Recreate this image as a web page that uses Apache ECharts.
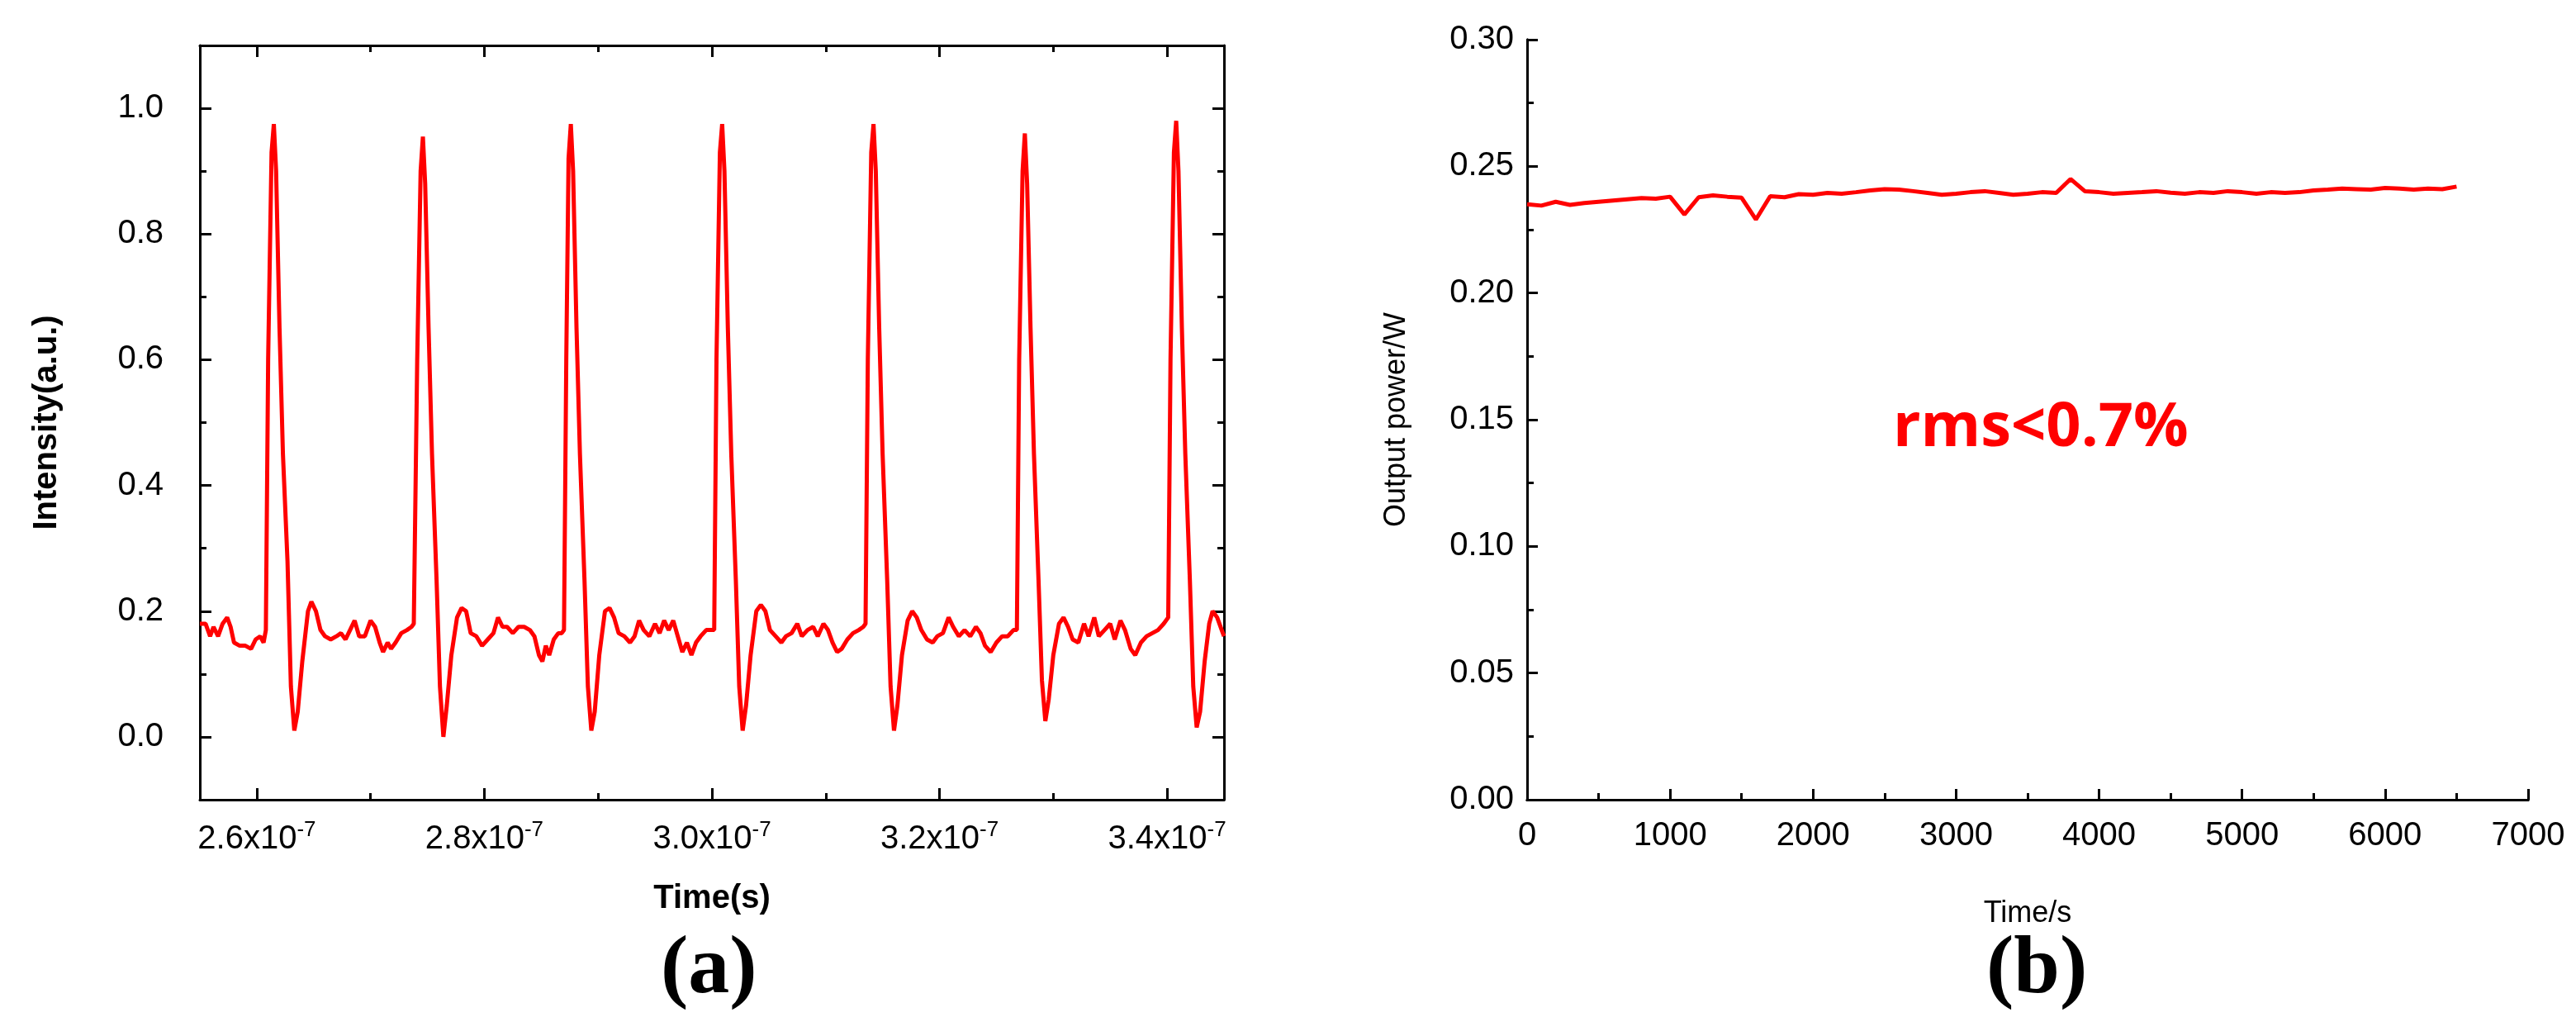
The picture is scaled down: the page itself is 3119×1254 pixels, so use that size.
<!doctype html>
<html lang="en">
<head>
<meta charset="utf-8">
<title>Pulse train and power stability</title>
<script src="https://cdn.jsdelivr.net/npm/echarts@6.0.0/dist/echarts.min.js"></script>
<style>
  html, body { margin: 0; padding: 0; background: #fff; }
  #chart { width: 3119px; height: 1254px; }
</style>
</head>
<body>
<div id="chart"></div>
<script>
// (a) pulse train, time in ns
var waveA = [
  [255.0,0.18],[255.5,0.18],[255.9,0.16],[256.2,0.175],[256.6,0.16],[257.0,0.18],[257.4,0.19],[257.7,0.175],[258.0,0.15],[258.5,0.145],[259.0,0.145],[259.5,0.14],[259.9,0.155],[260.3,0.16],[260.6,0.15],
  [260.8,0.17],[261.0,0.6],[261.3,0.93],[261.5,0.975],[261.7,0.9],[262.0,0.65],[262.3,0.45],[262.7,0.28],[263.0,0.08],[263.3,0.01],[263.6,0.04],[264.0,0.12],[264.5,0.2],[264.8,0.215],[265.2,0.2],[265.6,0.17],[266.0,0.16],[266.5,0.155],[267.0,0.16],[267.4,0.165],[267.8,0.155],[268.2,0.17],[268.6,0.185],[269.0,0.16],[269.5,0.16],[270.0,0.185],[270.4,0.175],[270.8,0.15],[271.1,0.135],[271.5,0.15],[271.8,0.14],[272.2,0.15],[272.7,0.165],[273.2,0.17],[273.6,0.175],
  [273.8,0.18],[274.1,0.6],[274.4,0.9],[274.6,0.955],[274.8,0.88],[275.1,0.65],[275.4,0.45],[275.8,0.25],[276.1,0.08],[276.4,0.0],[276.7,0.05],[277.1,0.13],[277.6,0.19],[278.0,0.205],[278.4,0.2],[278.8,0.165],[279.3,0.16],[279.8,0.145],[280.3,0.155],[280.8,0.165],[281.2,0.19],[281.6,0.175],[282.0,0.175],[282.5,0.165],[283.0,0.175],[283.5,0.175],[284.0,0.17],[284.4,0.16],[284.8,0.13],[285.1,0.12],[285.4,0.145],[285.7,0.13],[286.1,0.155],[286.5,0.165],[286.8,0.165],
  [287.0,0.17],[287.2,0.6],[287.4,0.92],[287.6,0.975],[287.8,0.9],[288.1,0.65],[288.4,0.45],[288.8,0.25],[289.1,0.08],[289.4,0.01],[289.7,0.04],[290.1,0.13],[290.6,0.2],[291.0,0.205],[291.4,0.19],[291.8,0.165],[292.3,0.16],[292.8,0.15],[293.2,0.16],[293.6,0.185],[294.0,0.17],[294.5,0.16],[295.0,0.18],[295.4,0.165],[295.8,0.185],[296.2,0.17],[296.6,0.185],[297.0,0.16],[297.4,0.135],[297.8,0.15],[298.2,0.13],[298.6,0.15],[299.0,0.16],[299.5,0.17],[300.0,0.17],
  [300.2,0.17],[300.4,0.6],[300.7,0.93],[300.9,0.975],[301.1,0.9],[301.4,0.65],[301.7,0.45],[302.1,0.25],[302.4,0.08],[302.7,0.01],[303.0,0.05],[303.4,0.13],[303.9,0.2],[304.3,0.21],[304.7,0.2],[305.1,0.17],[305.6,0.16],[306.1,0.15],[306.5,0.16],[307.0,0.165],[307.5,0.18],[307.9,0.16],[308.4,0.17],[308.9,0.175],[309.3,0.16],[309.8,0.18],[310.2,0.17],[310.6,0.15],[311.0,0.135],[311.4,0.14],[311.9,0.155],[312.4,0.165],[312.9,0.17],[313.3,0.175],
  [313.5,0.18],[313.7,0.6],[314.0,0.93],[314.2,0.975],[314.4,0.9],[314.7,0.65],[315.0,0.45],[315.4,0.25],[315.7,0.08],[316.0,0.01],[316.3,0.05],[316.7,0.13],[317.2,0.185],[317.6,0.2],[318.0,0.19],[318.4,0.17],[318.9,0.155],[319.4,0.15],[319.8,0.16],[320.3,0.165],[320.8,0.19],[321.2,0.175],[321.7,0.16],[322.2,0.17],[322.7,0.16],[323.2,0.175],[323.6,0.165],[324.0,0.145],[324.5,0.135],[325.0,0.15],[325.5,0.16],[326.0,0.16],[326.5,0.17],
  [326.8,0.17],[327.0,0.6],[327.3,0.9],[327.5,0.96],[327.7,0.88],[328.0,0.65],[328.3,0.45],[328.7,0.25],[329.0,0.09],[329.3,0.025],[329.6,0.06],[330.0,0.13],[330.5,0.18],[330.9,0.19],[331.3,0.175],[331.7,0.155],[332.2,0.15],[332.7,0.18],[333.1,0.16],[333.6,0.19],[334.0,0.16],[334.5,0.17],[335.0,0.18],[335.4,0.155],[335.9,0.185],[336.3,0.17],[336.8,0.14],[337.2,0.13],[337.7,0.15],[338.2,0.16],[338.7,0.165],[339.2,0.17],[339.7,0.18],
  [340.1,0.19],[340.3,0.6],[340.6,0.93],[340.8,0.98],[341.0,0.9],[341.3,0.65],[341.6,0.45],[342.0,0.25],[342.3,0.08],[342.6,0.015],[342.9,0.04],[343.3,0.12],[343.7,0.18],[344.0,0.2],[344.4,0.19],[344.8,0.17],[345.0,0.16]
];
var ticksA = [260, 280, 300, 320, 340];
var minorA = [270, 290, 310, 330];
var yTicksA = [0, 0.2, 0.4, 0.6, 0.8, 1.0];
var yMinorA = [-0.1, 0.1, 0.3, 0.5, 0.7, 0.9, 1.1];

// (b) output power vs time, every 100 s
var timeB = [];
for (var t = 0; t <= 6500; t += 100) timeB.push(t);
var powerB = [
  0.235,0.2345,0.236,0.2348,0.2355,0.236,0.2365,0.237,0.2375,0.2372,0.238,0.231,0.2378,0.2385,0.238,0.2376,0.229,0.2382,0.2378,0.239,0.2388,0.2395,0.2392,0.2398,0.2405,0.241,0.2408,0.2402,0.2395,0.2388,0.2392,0.2398,0.2402,0.2395,0.2388,0.2392,0.2398,0.2395,0.245,0.2402,0.2398,0.2392,0.2395,0.2398,0.2402,0.2396,0.2392,0.2398,0.2395,0.2402,0.2398,0.2392,0.2398,0.2395,0.2398,0.2405,0.2408,0.2412,0.241,0.2408,0.2415,0.2412,0.2408,0.2412,0.241,0.242
];
var dataB = timeB.map(function (x, i) { return [x, powerB[i]]; });

var black = '#000';
var lab = { color: black, fontFamily: 'Liberation Sans', fontSize: 40 };

var chart = echarts.init(document.getElementById('chart'));
var gA = { left: 242, right: 1637, top: 55, bottom: 286 };
var gB = { left: 1849, right: 58, top: 48, bottom: 286 };

function tickAxis(grid, pos, vals, len, show) {
  return {
    type: 'value', gridIndex: grid, position: pos, min: 255, max: 345,
    axisLine: { show: show, onZero: false, lineStyle: { color: black, width: 3 } },
    axisTick: { show: true, inside: true, length: len, customValues: vals, lineStyle: { color: black, width: 3 } },
    axisLabel: { show: false }, splitLine: { show: false }
  };
}
function yTickAxis(grid, pos, vals, len, show) {
  return {
    type: 'value', gridIndex: grid, position: pos, min: -0.1, max: 1.1,
    axisLine: { show: show, onZero: false, lineStyle: { color: black, width: 3 } },
    axisTick: { show: true, inside: true, length: len, customValues: vals, lineStyle: { color: black, width: 3 } },
    axisLabel: { show: false }, splitLine: { show: false }
  };
}

chart.setOption({
  animation: false,
  backgroundColor: '#fff',
  grid: [gA, gB],
  xAxis: [
    {
      type: 'value', gridIndex: 0, position: 'bottom', min: 255, max: 345,
      name: 'Time(s)', nameLocation: 'middle', nameGap: 100,
      nameTextStyle: { color: black, fontFamily: 'Liberation Sans', fontWeight: 'bold', fontSize: 40 },
      axisLine: { onZero: false, lineStyle: { color: black, width: 3 } },
      axisTick: { inside: true, length: 14, customValues: ticksA, lineStyle: { color: black, width: 3 } },
      axisLabel: {
        customValues: ticksA, margin: 24,
        formatter: function (v) { return (v / 100).toFixed(1) + 'x10{sup|-7}'; },
        rich: { sup: { fontFamily: 'Liberation Sans', fontSize: 26, color: black, verticalAlign: 'top', padding: [0, 0, 22, 0] } },
        color: black, fontFamily: 'Liberation Sans', fontSize: 40
      },
      splitLine: { show: false }
    },
    tickAxis(0, 'bottom', minorA, 8, false),
    tickAxis(0, 'top', ticksA, 14, true),
    tickAxis(0, 'top', minorA, 8, false),
    {
      type: 'value', gridIndex: 1, min: 0, max: 7000, interval: 1000,
      name: 'Time/s', nameLocation: 'middle', nameGap: 120,
      nameTextStyle: { color: black, fontFamily: 'Liberation Sans', fontSize: 36 },
      axisLine: { lineStyle: { color: black, width: 3 } },
      axisTick: { inside: true, length: 13, lineStyle: { color: black, width: 3 } },
      minorTick: { show: true, splitNumber: 2, length: 8, lineStyle: { color: black, width: 3 } },
      axisLabel: Object.assign({ margin: 24, formatter: function (v) { return String(v); } }, lab),
      splitLine: { show: false }
    },
    {
      type: 'value', gridIndex: 1, position: 'top', min: 0, max: 7000,
      axisLine: { lineStyle: { color: black, width: 3 } },
      axisTick: { show: false }, axisLabel: { show: false }, splitLine: { show: false }
    }
  ],
  yAxis: [
    {
      type: 'value', gridIndex: 0, min: -0.1, max: 1.1,
      name: 'Intensity(a.u.)', nameLocation: 'middle', nameGap: 165,
      nameTextStyle: { color: black, fontFamily: 'Liberation Sans', fontWeight: 'bold', fontSize: 40 },
      axisLine: { onZero: false, lineStyle: { color: black, width: 3 } },
      axisTick: { inside: true, length: 14, customValues: yTicksA, lineStyle: { color: black, width: 3 } },
      axisLabel: { customValues: yTicksA, margin: 44, formatter: function (v) { return v.toFixed(1); }, color: black, fontFamily: 'Liberation Sans', fontSize: 40 },
      splitLine: { show: false }
    },
    yTickAxis(0, 'left', yMinorA, 8, false),
    yTickAxis(0, 'right', yTicksA, 14, true),
    yTickAxis(0, 'right', yMinorA, 8, false),
    {
      type: 'value', gridIndex: 1, min: 0, max: 0.3, interval: 0.05,
      name: 'Output power/W', nameLocation: 'middle', nameGap: 140,
      nameTextStyle: { color: black, fontFamily: 'Liberation Sans', fontSize: 36 },
      axisLine: { lineStyle: { color: black, width: 3 } },
      axisTick: { inside: true, length: 13, lineStyle: { color: black, width: 3 } },
      minorTick: { show: true, splitNumber: 2, length: 8, lineStyle: { color: black, width: 3 } },
      axisLabel: Object.assign({ margin: 16, formatter: function (v) { return v.toFixed(2); } }, lab),
      splitLine: { show: false }
    },
    {
      type: 'value', gridIndex: 1, position: 'right', min: 0, max: 0.3,
      axisLine: { lineStyle: { color: black, width: 3 } },
      axisTick: { show: false }, axisLabel: { show: false }, splitLine: { show: false }
    }
  ],
  series: [
    { type: 'line', xAxisIndex: 0, yAxisIndex: 0, data: waveA, showSymbol: false, lineStyle: { color: '#ff0000', width: 5 } },
    { type: 'line', xAxisIndex: 4, yAxisIndex: 4, data: dataB, showSymbol: false, lineStyle: { color: '#ff0000', width: 5 } }
  ],
  graphic: [
    { type: 'text', left: 2292, top: 482, style: { text: 'rms<0.7%', fill: '#ff0000', font: 'bold 74px "Open Sans"' } },
    { type: 'text', left: 800, top: 1125, style: { text: '(a)', fill: black, font: 'bold 100px "Liberation Serif"' } },
    { type: 'text', left: 2405, top: 1125, style: { text: '(b)', fill: black, font: 'bold 100px "Liberation Serif"' } }
  ]
});
</script>
</body>
</html>
